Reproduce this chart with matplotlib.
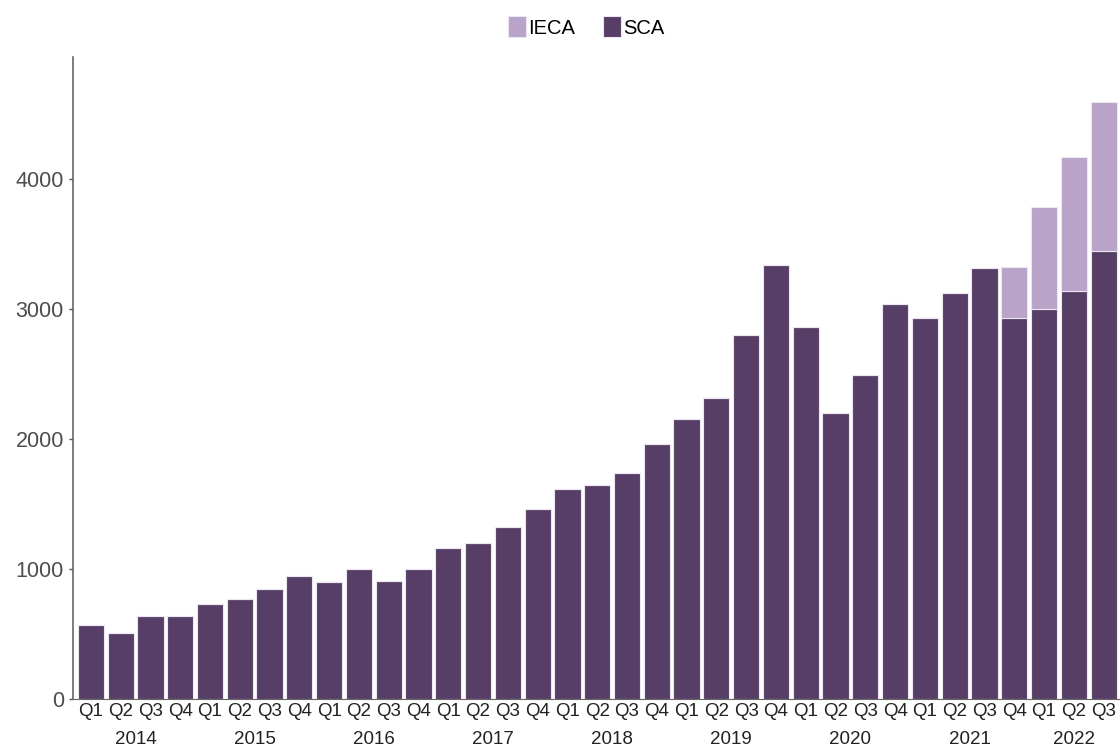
import numpy as np
import matplotlib.pyplot as plt

plt.rcParams['font.family'] = ['Liberation Sans', 'DejaVu Sans']

# Quarterly data, 2014 Q1 .. 2022 Q3
quarters = ['Q1', 'Q2', 'Q3', 'Q4'] * 8 + ['Q1', 'Q2', 'Q3']
years = ['2014', '2015', '2016', '2017', '2018', '2019', '2020', '2021', '2022']
sca = [566, 510, 635, 635, 728, 767, 844, 946,
       900, 1002, 908, 1002, 1162, 1200, 1323, 1464,
       1615, 1646, 1738, 1962, 2152, 2313, 2800, 3341,
       2859, 2198, 2490, 3038, 2933, 3123, 3315, 2933,
       3000, 3141, 3451]
ieca = [0] * 31 + [392, 782, 1033, 1139]

c_sca = '#573e66'
c_ieca = '#b9a3c9'

fig = plt.figure(figsize=(11.2, 7.48), dpi=100)
ax = fig.add_axes([73 / 1120, 49 / 748, 1 - 73 / 1120, 642 / 748])

x = np.arange(len(sca))
ax.bar(x, sca, width=0.88, color=c_sca, edgecolor='#ece6f0', linewidth=0.8, label='SCA')
ax.bar(x, ieca, bottom=sca, width=0.88, color=c_ieca, edgecolor='#ece6f0', linewidth=0.8, label='IECA')

ax.set_xlim(-0.6, len(sca) - 0.45)
ax.set_ylim(0, 4940)
ax.set_yticks([0, 1000, 2000, 3000, 4000])
ax.tick_params(axis='y', labelsize=15.5, labelcolor='#4d4d4d', color='#555555', length=3, width=1)
ax.set_xticks(x)
ax.set_xticklabels(quarters)
ax.tick_params(axis='x', labelsize=13.5, labelcolor='#222222', length=0, pad=3)

# year labels under each group
for i, yr in enumerate(years):
    n = min(4, len(sca) - 4 * i)
    ax.annotate(yr, xy=(4 * i + (n - 1) / 2, 0), xycoords=('data', 'axes fraction'),
                xytext=(0, -29), textcoords='offset points', ha='center', va='center',
                fontsize=13.5, color='#222222')

for s in ['top', 'right']:
    ax.spines[s].set_visible(False)
ax.spines['left'].set_color('#666666')
ax.spines['bottom'].set_color('#666666')
ax.spines['left'].set_linewidth(1.2)

h, l = ax.get_legend_handles_labels()
fig.legend(h[::-1], l[::-1], loc='center', bbox_to_anchor=(586 / 1120, 1 - 27 / 748), ncol=2,
           frameon=False, fontsize=14.5, handlelength=0.9, handleheight=1.2,
           handletextpad=0.1, columnspacing=1.4)

plt.savefig('out.png', dpi=100)
